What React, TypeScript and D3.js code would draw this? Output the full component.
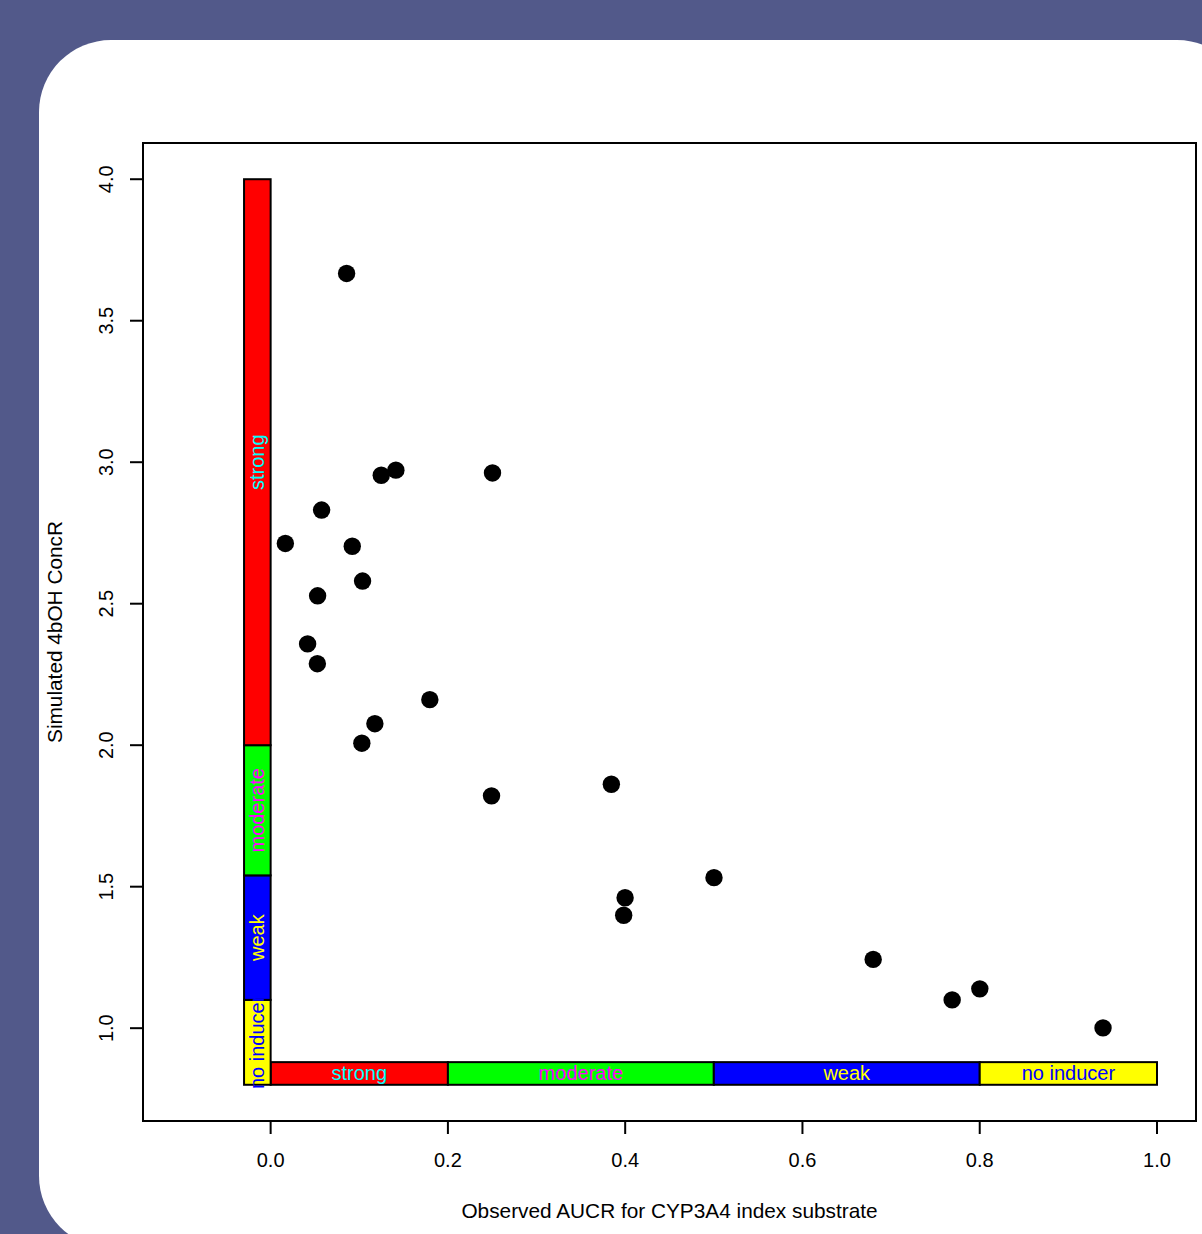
import React, { useEffect, useRef } from 'react';
import * as d3 from 'd3';

// observed AUCR (x) vs simulated 4bOH concentration ratio (y)
const aucrObserved = [
	0.0166, 0.0857, 0.0575, 0.0921, 0.1037, 0.0530, 0.0417, 0.0527,
	0.1248, 0.1413, 0.2503, 0.1796, 0.1176, 0.1029, 0.2492, 0.3844,
	0.3999, 0.3983, 0.5002, 0.6798, 0.7689, 0.8001, 0.9391
];
const concRSimulated = [
	2.713, 3.667, 2.831, 2.703, 2.580, 2.528, 2.358, 2.288,
	2.954, 2.972, 2.962, 2.161, 2.076, 2.007, 1.821, 1.862,
	1.461, 1.399, 1.532, 1.243, 1.100, 1.139, 1.001
];

const xTicks = [0, 0.2, 0.4, 0.6, 0.8, 1.0];
const yTicks = [1.0, 1.5, 2.0, 2.5, 3.0, 3.5, 4.0];

// inducer classes along the x axis (AUCR cut-offs)
const xBandLabels = ['strong', 'moderate', 'weak', 'no inducer'];
const xBandFrom = [0, 0.2, 0.5, 0.8];
const xBandTo = [0.2, 0.5, 0.8, 1.0];

// inducer classes along the y axis (ConcR cut-offs)
const yBandLabels = ['no inducer', 'weak', 'moderate', 'strong'];
const yBandFrom = [0.8, 1.1, 1.54, 2.0];
const yBandTo = [1.1, 1.54, 2.0, 4.0];

const classFill: Record<string, string> = {
	'strong': '#ff0000', 'moderate': '#00ff00', 'weak': '#0000ff', 'no inducer': '#ffff00'
};
const classText: Record<string, string> = {
	'strong': '#00ffff', 'moderate': '#ff00ff', 'weak': '#ffff00', 'no inducer': '#0000ff'
};

const W = 1202, H = 1234;
const FONT = '"Liberation Sans", Arial, sans-serif';

export default function App() {
	const ref = useRef<SVGSVGElement>(null);

	useEffect(() => {
		const svg = d3.select(ref.current);
		svg.selectAll('*').remove();

		// slide background + rounded white card
		svg.append('rect').attr('width', W).attr('height', H).attr('fill', '#52598a');
		svg.append('rect')
			.attr('x', 39).attr('y', 40).attr('width', 1210).attr('height', 1208)
			.attr('rx', 72).attr('ry', 72).attr('fill', '#ffffff');

		// plot box, like R with xlim c(-0.1,1), ylim c(0.8,4)
		const box = { left: 143, right: 1196, top: 143, bottom: 1121 };
		const x = d3.scaleLinear().domain([-0.144, 1.044]).range([box.left, box.right]);
		const y = d3.scaleLinear().domain([0.672, 4.128]).range([box.bottom, box.top]);

		// bands along x
		const bandG = svg.append('g');
		xBandLabels.forEach((lab, i) => {
			bandG.append('rect')
				.attr('x', x(xBandFrom[i])).attr('width', x(xBandTo[i]) - x(xBandFrom[i]))
				.attr('y', y(0.88)).attr('height', y(0.8) - y(0.88))
				.attr('fill', classFill[lab]).attr('stroke', '#000').attr('stroke-width', 2);
		});
		// bands along y
		yBandLabels.forEach((lab, i) => {
			bandG.append('rect')
				.attr('x', x(-0.03)).attr('width', x(0) - x(-0.03))
				.attr('y', y(yBandTo[i])).attr('height', y(yBandFrom[i]) - y(yBandTo[i]))
				.attr('fill', classFill[lab]).attr('stroke', '#000').attr('stroke-width', 2);
		});
		// band labels
		xBandLabels.forEach((lab, i) => {
			bandG.append('text')
				.text(lab)
				.attr('x', x((xBandFrom[i] + xBandTo[i]) / 2))
				.attr('y', y(0.84) + 7)
				.attr('text-anchor', 'middle')
				.attr('font-family', FONT).attr('font-size', 20)
				.attr('fill', classText[lab]);
		});
		yBandLabels.forEach((lab, i) => {
			const cy = y((yBandFrom[i] + yBandTo[i]) / 2);
			const cx = x(-0.015) + 7;
			bandG.append('text')
				.text(lab)
				.attr('transform', `translate(${cx},${cy}) rotate(-90)`)
				.attr('text-anchor', 'middle')
				.attr('font-family', FONT).attr('font-size', 20)
				.attr('fill', classText[lab]);
		});

		// points
		svg.append('g').selectAll('circle')
			.data(aucrObserved)
			.enter()
			.append('circle')
			.attr('cx', d => x(d))
			.attr('cy', (d, i) => y(concRSimulated[i]))
			.attr('r', 8.7)
			.attr('fill', '#000');

		// box
		svg.append('rect')
			.attr('x', box.left).attr('y', box.top)
			.attr('width', box.right - box.left).attr('height', box.bottom - box.top)
			.attr('fill', 'none').attr('stroke', '#000').attr('stroke-width', 2);

		// x axis
		const xAxis = svg.append('g');
		xAxis.selectAll('line').data(xTicks).enter().append('line')
			.attr('x1', d => x(d)).attr('x2', d => x(d))
			.attr('y1', box.bottom).attr('y2', box.bottom + 13)
			.attr('stroke', '#000').attr('stroke-width', 2);
		xAxis.selectAll('text').data(xTicks).enter().append('text')
			.text(d => d3.format('.1f')(d))
			.attr('x', d => x(d)).attr('y', 1167)
			.attr('text-anchor', 'middle')
			.attr('font-family', FONT).attr('font-size', 20).attr('fill', '#000');

		// y axis
		const yAxis = svg.append('g');
		yAxis.selectAll('line').data(yTicks).enter().append('line')
			.attr('x1', box.left).attr('x2', box.left - 13)
			.attr('y1', d => y(d)).attr('y2', d => y(d))
			.attr('stroke', '#000').attr('stroke-width', 2);
		yAxis.selectAll('text').data(yTicks).enter().append('text')
			.text(d => d3.format('.1f')(d))
			.attr('transform', d => `translate(113,${y(d)}) rotate(-90)`)
			.attr('text-anchor', 'middle')
			.attr('font-family', FONT).attr('font-size', 20).attr('fill', '#000');

		// titles
		svg.append('text')
			.text('Observed AUCR for CYP3A4 index substrate')
			.attr('x', (box.left + box.right) / 2).attr('y', 1218)
			.attr('text-anchor', 'middle')
			.attr('font-family', FONT).attr('font-size', 20.8).attr('fill', '#000');
		svg.append('text')
			.text('Simulated 4bOH ConcR')
			.attr('transform', `translate(62,${(box.top + box.bottom) / 2}) rotate(-90)`)
			.attr('text-anchor', 'middle')
			.attr('font-family', FONT).attr('font-size', 20.8).attr('fill', '#000');
	}, []);

	return (
		<svg ref={ref} width={W} height={H}
			style={{ position: 'absolute', left: 0, top: 0, display: 'block' }} />
	);
}
